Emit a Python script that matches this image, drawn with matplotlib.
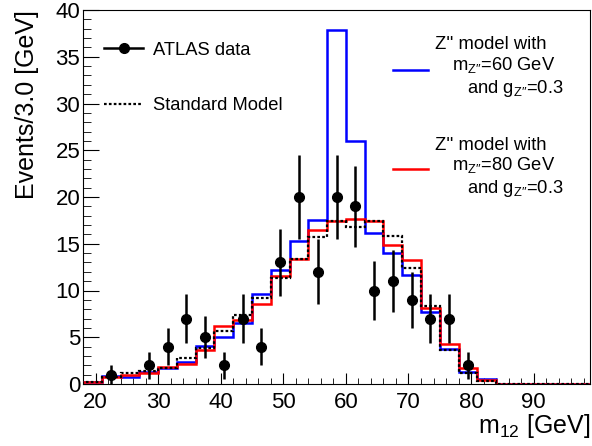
import numpy as np
import matplotlib
matplotlib.use('Agg')
import matplotlib.pyplot as plt
from matplotlib.ticker import MultipleLocator

plt.rcParams['font.family'] = ['Liberation Sans', 'DejaVu Sans']
plt.rcParams['mathtext.fontset'] = 'custom'
plt.rcParams['mathtext.rm'] = 'Liberation Sans'
plt.rcParams['mathtext.it'] = 'Liberation Sans:italic'

# bin edges 18..99 GeV, 3 GeV wide
edges = np.arange(18, 100, 3)
centers = edges[:-1] + 1.5

# ATLAS data (events per bin)
data = [0, 1, 0, 2, 4, 7, 5, 2, 7, 4, 13, 20, 12, 20, 19, 10, 11, 9, 7, 7,
        2, 0, 0, 0, 0, 0, 0]
# Standard Model expectation
sm = [0.2, 0.8, 1.2, 1.4, 1.7, 2.75, 3.8, 5.7, 7.4, 9.15, 11.3, 13.4, 15.7,
      17.4, 16.8, 17.4, 15.8, 12.4, 8.35, 3.6, 1.15, 0.35, 0.05, 0.03, 0.02,
      0.01, 0.01]
# Z'' model, m=60 GeV
z60 = [0.25, 0.85, 0.8, 1.3, 1.7, 2.4, 4.1, 5.05, 6.55, 9.6, 12.2, 15.3, 17.5,
       37.9, 26.0, 16.2, 14.0, 11.7, 7.75, 3.7, 1.3, 0.55, 0.05, 0.03, 0.02,
       0.01, 0.01]
# Z'' model, m=80 GeV
z80 = [0.25, 0.7, 0.95, 1.15, 1.85, 2.15, 3.6, 6.2, 6.85, 8.6, 11.5, 13.4,
       16.5, 17.4, 17.7, 17.4, 14.9, 13.3, 8.15, 4.25, 1.7, 0.45, 0.05, 0.03,
       0.02, 0.01, 0.01]

data = np.array(data, dtype=float)
err = np.sqrt(data)
nz = data > 0

fig = plt.figure(figsize=(5.92, 4.46), dpi=100)
ax = fig.add_axes([83 / 592, 62 / 446, 507 / 592, 374 / 446])

dots = (0, (1.2, 1.0))
ax.stairs(z60, edges, color='#0000ff', lw=1.8, zorder=3)
ax.stairs(z80, edges, color='#ff0000', lw=1.8, zorder=4)
ax.stairs(sm, edges, color='black', lw=1.6, linestyle=dots, zorder=5)
ax.errorbar(centers[nz], data[nz], yerr=err[nz], fmt='o', color='black',
            ms=7, elinewidth=1.8, capsize=0, zorder=6)

ax.set_xlim(18, 99)
ax.set_ylim(0, 40)
ax.xaxis.set_major_locator(MultipleLocator(10))
ax.xaxis.set_minor_locator(MultipleLocator(2))
ax.yaxis.set_major_locator(MultipleLocator(5))
ax.yaxis.set_minor_locator(MultipleLocator(1))
ax.tick_params(which='both', direction='in', top=False, right=False,
               labelsize=16)
ax.tick_params(axis='y', which='major', length=11.5, pad=2)
ax.tick_params(axis='y', which='minor', length=6)
ax.tick_params(axis='x', which='major', length=8, pad=6)
ax.tick_params(axis='x', which='minor', length=4)

ax.set_xlabel(r'm$_{\mathregular{12}}$ [GeV]', fontsize=18, loc='right')
ax.xaxis.set_label_coords(1.0, -0.076)
ax.set_ylabel('Events/3.0 [GeV]', fontsize=18, loc='top')
ax.yaxis.set_label_coords(-0.086, 1.0)

# legend, left block
tr = ax.transAxes
fs = 13.2
ax.plot([0.041, 0.119], [0.898, 0.898], color='black', lw=1.8, transform=tr)
ax.plot([0.080], [0.898], 'o', color='black', ms=7, transform=tr)
ax.text(0.139, 0.881, 'ATLAS data', fontsize=fs, va='baseline', transform=tr)
ax.plot([0.041, 0.119], [0.750, 0.750], color='black', lw=1.6,
        linestyle=dots, transform=tr)
ax.text(0.139, 0.733, 'Standard Model', fontsize=fs, va='baseline',
        transform=tr)

# legend, right block
ax.plot([0.611, 0.680], [0.840, 0.840], color='#0000ff', lw=1.8, transform=tr)
ax.text(0.694, 0.895, "Z'' model with", fontsize=fs, va='baseline',
        transform=tr)
ax.text(0.728, 0.840, r'm$_{\mathregular{Z″}}$=60 GeV', fontsize=fs,
        va='baseline', transform=tr)
ax.text(0.757, 0.777, r'and g$_{\mathregular{Z″}}$=0.3', fontsize=fs,
        va='baseline', transform=tr)

ax.plot([0.611, 0.680], [0.574, 0.574], color='#ff0000', lw=1.8, transform=tr)
ax.text(0.694, 0.626, "Z'' model with", fontsize=fs, va='baseline',
        transform=tr)
ax.text(0.728, 0.572, r'm$_{\mathregular{Z″}}$=80 GeV', fontsize=fs,
        va='baseline', transform=tr)
ax.text(0.757, 0.510, r'and g$_{\mathregular{Z″}}$=0.3', fontsize=fs,
        va='baseline', transform=tr)

fig.savefig('out.png', dpi=100)
